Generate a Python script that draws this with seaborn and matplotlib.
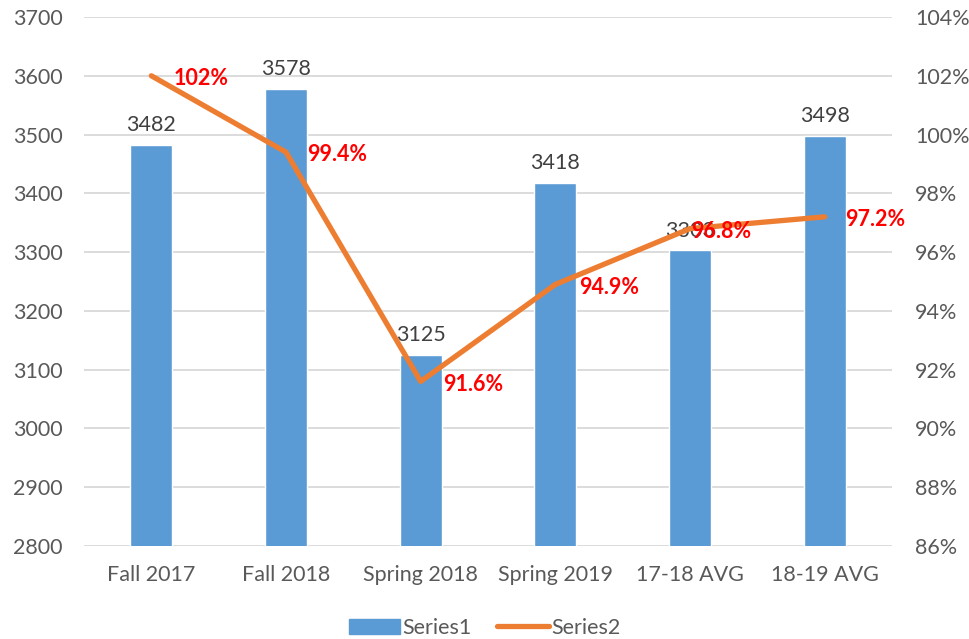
import matplotlib
matplotlib.use("Agg")
import matplotlib.pyplot as plt
import seaborn as sns
import numpy as np
import pandas as pd
from matplotlib.patches import Patch
from matplotlib.lines import Line2D

categories = ["Fall 2017", "Fall 2018", "Spring 2018", "Spring 2019", "17-18 AVG", "18-19 AVG"]
series1 = [3482, 3578, 3125, 3418, 3303, 3498]
series2 = [102.0, 99.4, 91.6, 94.9, 96.8, 97.2]
series2_labels = ["102%", "99.4%", "91.6%", "94.9%", "96.8%", "97.2%"]
left_ticks = [2800, 2900, 3000, 3100, 3200, 3300, 3400, 3500, 3600, 3700]
right_ticks = [86, 88, 90, 92, 94, 96, 98, 100, 102, 104]

sns.set_theme(style="white")
plt.rcParams["font.family"] = ["Lato", "DejaVu Sans"]

BLUE = "#5B9BD5"
ORANGE = "#ED7D31"
GRID = "#D9D9D9"
TICK = "#595959"
FS = 15.5

fig = plt.figure(figsize=(9.69, 6.39), dpi=100)
ax = fig.add_axes([84/969, 1-546/639, (892-84)/969, (546-17)/639])

df = pd.DataFrame({"cat": categories, "s1": series1, "s2": series2})
sns.barplot(data=df, x="cat", y="s1", ax=ax, color=BLUE, width=0.31, saturation=1)
ax.set_ylim(2800, 3700)
ax.set_yticks(left_ticks)
ax.set_yticklabels([str(t) for t in left_ticks])
ax.grid(axis="y", color=GRID, linewidth=1.3)
ax.set_axisbelow(True)
ax.set_xlabel("")
ax.set_ylabel("")
for s in ax.spines.values():
    s.set_visible(False)
ax.tick_params(axis="y", length=0, pad=15.5, labelsize=FS, labelcolor=TICK)
ax.tick_params(axis="x", length=0, pad=14, labelsize=FS, labelcolor=TICK)

for container in ax.containers:
    ax.bar_label(container, labels=[str(v) for v in series1], padding=7,
                 fontsize=FS, color="#404040")

ax2 = ax.twinx()
sns.pointplot(data=df, x="cat", y="s2", ax=ax2, color=ORANGE, markers="",
              linewidth=3.8, errorbar=None)
ax2.set_ylim(86, 104)
ax2.set_yticks(right_ticks)
ax2.set_yticklabels([f"{t}%" for t in right_ticks])
ax2.set_ylabel("")
ax2.set_xlabel("")
for s in ax2.spines.values():
    s.set_visible(False)
ax2.tick_params(axis="y", length=0, pad=16.5, labelsize=FS, labelcolor=TICK)
for line in ax2.lines:
    line.set_solid_capstyle("round")
    line.set_solid_joinstyle("round")

offsets = [16, 15, 16, 17, 1, 15]
for i, (v, lab) in enumerate(zip(series2, series2_labels)):
    ax2.annotate(lab, (i, v), xytext=(offsets[i], -2), textcoords="offset points",
                 ha="left", va="center", color="#FF0000", fontsize=FS, fontweight="bold")

handles = [Patch(facecolor=BLUE, edgecolor=BLUE),
           Line2D([0], [0], color=ORANGE, linewidth=3.8, solid_capstyle="round")]
fig.legend(handles, ["Series1", "Series2"], loc="center", bbox_to_anchor=(0.5, 1-628/639),
           ncol=2, frameon=False, fontsize=FS, labelcolor=TICK, handlelength=2.4,
           handletextpad=0.1, columnspacing=1.2)

fig.savefig("out.png", dpi=100)
